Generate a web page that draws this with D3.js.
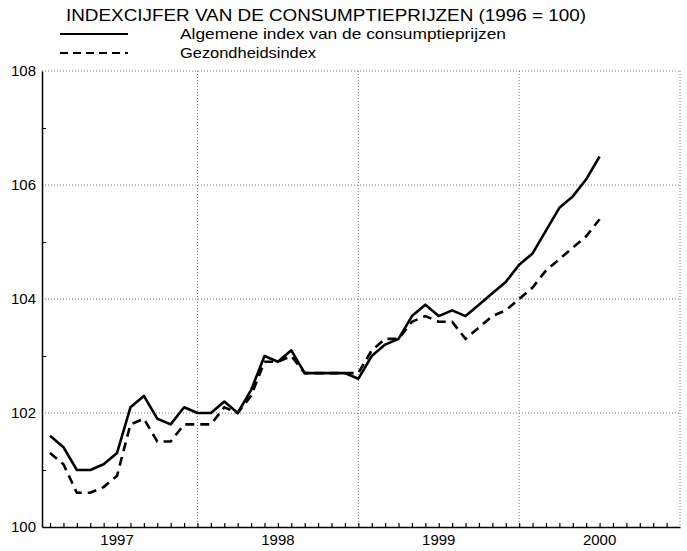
<!DOCTYPE html>
<html>
<head>
<meta charset="utf-8">
<script src="https://cdn.jsdelivr.net/npm/d3@7"></script>
<style>
  body { margin: 0; background: #fff; }
  svg { display: block; font-family: "Liberation Sans", Arial, sans-serif; }
</style>
</head>
<body>
<div id="chart"></div>
<script>
// maandcijfers jan 1997 - jun 2000 (1996 = 100)
const years = [1997, 1998, 1999, 2000];
const algemeen = [
  101.6, 101.4, 101.0, 101.0, 101.1, 101.3, 102.1, 102.3, 101.9, 101.8, 102.1, 102.0,
  102.0, 102.2, 102.0, 102.4, 103.0, 102.9, 103.1, 102.7, 102.7, 102.7, 102.7, 102.6,
  103.0, 103.2, 103.3, 103.7, 103.9, 103.7, 103.8, 103.7, 103.9, 104.1, 104.3, 104.6,
  104.8, 105.2, 105.6, 105.8, 106.1, 106.5
];
const gezondheid = [
  101.3, 101.1, 100.6, 100.6, 100.7, 100.9, 101.8, 101.9, 101.5, 101.5, 101.8, 101.8,
  101.8, 102.1, 102.0, 102.3, 102.9, 102.9, 103.0, 102.7, 102.7, 102.7, 102.7, 102.7,
  103.1, 103.3, 103.3, 103.6, 103.7, 103.6, 103.6, 103.3, 103.5, 103.7, 103.8, 104.0,
  104.2, 104.5, 104.7, 104.9, 105.1, 105.4
];
const yTicks = [100, 102, 104, 106, 108];
const yMinor = [101, 103, 105, 107];
const title = 'INDEXCIJFER VAN DE CONSUMPTIEPRIJZEN (1996 = 100)';
const legendLabels = ['Algemene index van de consumptieprijzen', 'Gezondheidsindex'];

const width = 687, height = 551;
const plot = { left: 42, right: 680, top: 71, bottom: 527 };

const svg = d3.select('#chart').append('svg')
  .attr('width', width)
  .attr('height', height);

const x = d3.scaleLinear().domain([-0.6, 47]).range([plot.left, plot.right]);
const y = d3.scaleLinear().domain([100, 108]).range([plot.bottom, plot.top]);

// title + legend
svg.append('text')
  .attr('x', 66).attr('y', 21)
  .attr('textLength', 520).attr('lengthAdjust', 'spacingAndGlyphs')
  .style('font-size', '16px')
  .text(title);

const legend = svg.append('g');
legendLabels.forEach((label, i) => {
  const ly = 34 + i * 19;
  legend.append('line')
    .attr('x1', 60).attr('x2', 128).attr('y1', ly).attr('y2', ly)
    .attr('stroke', '#000').attr('stroke-width', 2.2)
    .attr('stroke-dasharray', i ? '8,5' : null);
  legend.append('text')
    .attr('x', 180).attr('y', ly + 5)
    .attr('textLength', i ? 136 : 326).attr('lengthAdjust', 'spacingAndGlyphs')
    .style('font-size', '15px')
    .text(label);
});

// dotted grid
const grid = svg.append('g')
  .attr('stroke', '#555').attr('stroke-width', 0.8)
  .attr('stroke-dasharray', '1,2');
grid.selectAll('.h').data(yTicks.slice(1)).join('line')
  .attr('class', 'h')
  .attr('x1', plot.left).attr('x2', plot.right)
  .attr('y1', d => y(d)).attr('y2', d => y(d));
grid.selectAll('.v').data(years.map((yr, i) => i * 12 + 11)).join('line')
  .attr('class', 'v')
  .attr('x1', d => x(d)).attr('x2', d => x(d))
  .attr('y1', plot.top).attr('y2', plot.bottom);

// axes
const yAxis = svg.append('g')
  .attr('transform', `translate(${plot.left},0)`)
  .call(d3.axisLeft(y).tickValues(yTicks).tickSize(0).tickPadding(6));
yAxis.select('.domain').attr('stroke-width', 1.5);
yAxis.selectAll('text').style('font-size', '15px').attr('fill', '#000');

svg.append('g')
  .attr('transform', `translate(${plot.left},0)`)
  .call(d3.axisLeft(y).tickValues(yMinor).tickSize(-4).tickFormat(''))
  .select('.domain').remove();

const xAxis = svg.append('g')
  .attr('transform', `translate(0,${plot.bottom})`)
  .call(d3.axisBottom(x).tickValues(d3.range(0, 47)).tickSize(-4).tickFormat('').tickSizeOuter(0));
xAxis.select('.domain').attr('stroke-width', 1.5);
xAxis.selectAll('.tick line').attr('stroke-width', 1.2);

svg.append('g')
  .selectAll('text').data(years).join('text')
  .attr('x', (d, i) => (x(i * 12 - 1) + x(i * 12 + 11)) / 2)
  .attr('y', 545)
  .attr('text-anchor', 'middle')
  .style('font-size', '15px')
  .text(d => d);

// series
const line = d3.line()
  .x((d, i) => x(i))
  .y(d => y(d));

svg.append('path')
  .datum(algemeen)
  .attr('fill', 'none')
  .attr('stroke', '#000')
  .attr('stroke-width', 2.6)
  .attr('stroke-linejoin', 'round')
  .attr('d', line);

svg.append('path')
  .datum(gezondheid)
  .attr('fill', 'none')
  .attr('stroke', '#000')
  .attr('stroke-width', 2.6)
  .attr('stroke-dasharray', '9,6')
  .attr('d', line);
</script>
</body>
</html>
